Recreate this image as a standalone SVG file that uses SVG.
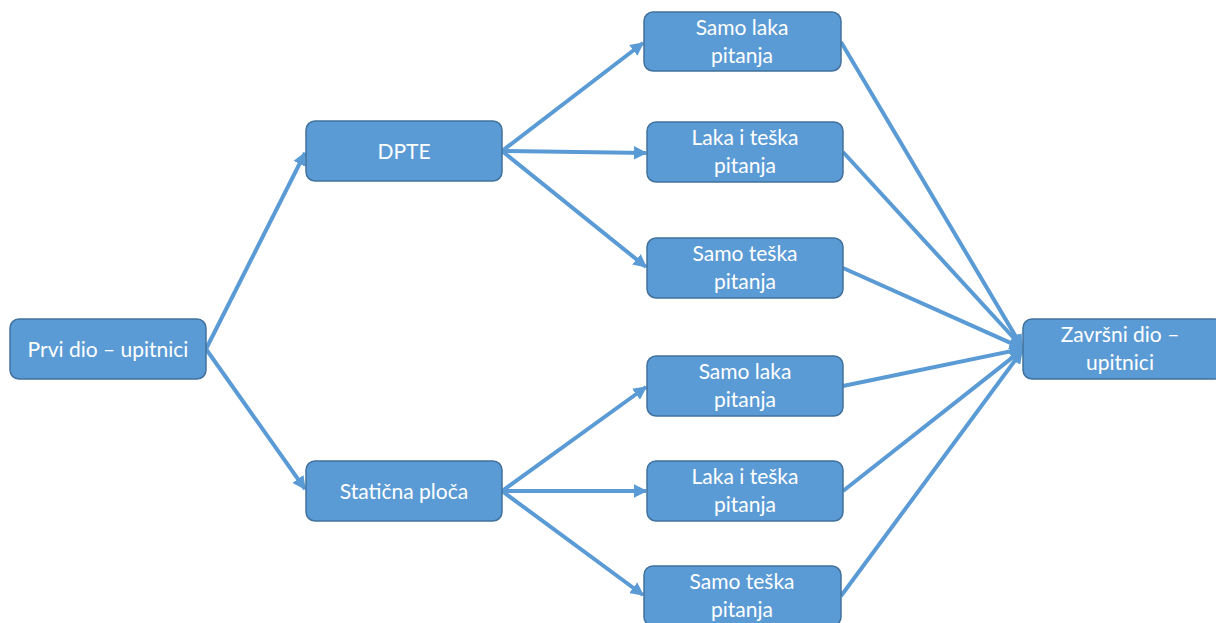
<svg xmlns="http://www.w3.org/2000/svg" width="1216" height="623" viewBox="0 0 1216 623">
<defs>
<marker id="ah" viewBox="0 0 10 10" refX="9" refY="5" markerWidth="3.4" markerHeight="3.4" orient="auto" markerUnits="strokeWidth">
<path d="M0,0 L10,5 L0,10 z" fill="#5b9bd5"/>
</marker>
<style>
.n rect{fill:#5b9bd5;stroke:#41719c;stroke-width:1.5}
.n text{fill:#fff;font-family:Lato,"Liberation Sans",sans-serif;font-size:21px;text-anchor:middle}
.c line{stroke:#5b9bd5;stroke-width:4;marker-end:url(#ah)}
</style>
</defs>
<rect width="1216" height="623" fill="#fff"/>
<g class="c" id="connectors">
<line x1="206" y1="349" x2="305" y2="153"/>
<line x1="206" y1="349" x2="305" y2="489"/>
<line x1="502" y1="151" x2="643" y2="43"/>
<line x1="502" y1="151" x2="646" y2="153"/>
<line x1="502" y1="151" x2="646" y2="267"/>
<line x1="502" y1="491" x2="646" y2="387"/>
<line x1="502" y1="491" x2="646" y2="491"/>
<line x1="502" y1="491" x2="643" y2="595"/>
<line x1="841" y1="42" x2="1022" y2="347"/>
<line x1="843" y1="152" x2="1022" y2="347"/>
<line x1="843" y1="268" x2="1022" y2="348"/>
<line x1="843" y1="386" x2="1022" y2="349"/>
<line x1="843" y1="491" x2="1022" y2="350"/>
<line x1="841" y1="596" x2="1022" y2="351"/>
</g>
<g class="n" id="prvi"><rect x="10" y="319" width="196" height="60" rx="9"/><text x="108" y="357">Prvi dio – upitnici</text></g>
<g class="n" id="dpte"><rect x="306" y="121" width="196" height="60" rx="9"/><text x="404" y="159">DPTE</text></g>
<g class="n" id="staticna"><rect x="306" y="461" width="196" height="60" rx="9"/><text x="404" y="499">Statična ploča</text></g>
<g class="n" id="dpte-laka"><rect x="644" y="12" width="197" height="59" rx="9"/><text x="742" y="35">Samo laka</text><text x="742" y="63">pitanja</text></g>
<g class="n" id="dpte-mix"><rect x="647" y="122" width="196" height="60" rx="9"/><text x="745" y="145">Laka i teška</text><text x="745" y="173">pitanja</text></g>
<g class="n" id="dpte-teska"><rect x="647" y="238" width="196" height="60" rx="9"/><text x="745" y="261">Samo teška</text><text x="745" y="289">pitanja</text></g>
<g class="n" id="st-laka"><rect x="647" y="356" width="196" height="60" rx="9"/><text x="745" y="379">Samo laka</text><text x="745" y="407">pitanja</text></g>
<g class="n" id="st-mix"><rect x="647" y="461" width="196" height="60" rx="9"/><text x="745" y="484">Laka i teška</text><text x="745" y="512">pitanja</text></g>
<g class="n" id="st-teska"><rect x="644" y="566" width="197" height="60" rx="9"/><text x="742" y="589">Samo teška</text><text x="742" y="617">pitanja</text></g>
<g class="n" id="zavrsni"><rect x="1023" y="319" width="200" height="60" rx="9"/><text x="1120" y="342">Završni dio –</text><text x="1120" y="370">upitnici</text></g>
</svg>
